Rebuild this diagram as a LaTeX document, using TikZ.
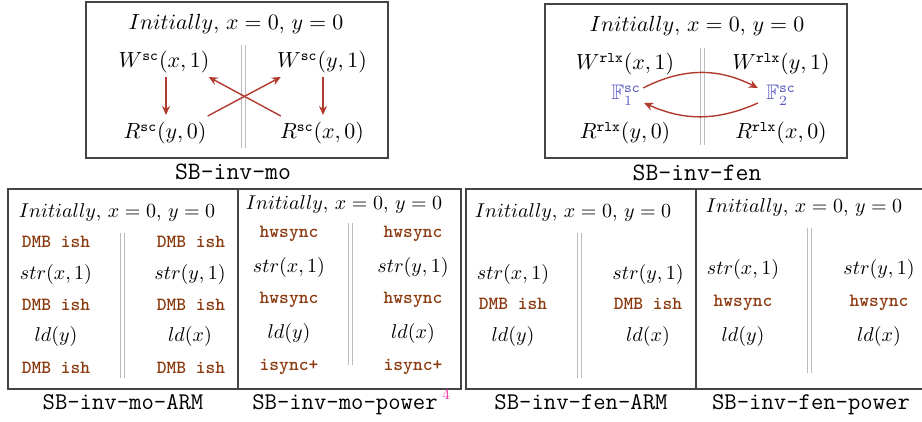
\documentclass[tikz,border=0pt]{standalone}
\usepackage{amsmath}
\usepackage{fontspec}
\usepackage{amssymb}
\usetikzlibrary{arrows.meta}
\definecolor{arrred}{HTML}{B03A2E}
\definecolor{fencecol}{HTML}{8B3A0F}
\definecolor{fblue}{HTML}{5A5AC0}
\definecolor{mark}{HTML}{E83CA8}
\definecolor{framecol}{HTML}{444444}
\definecolor{sepcol}{HTML}{BBBBBB}
\tikzset{
  mtop/.style={inner sep=0pt, anchor=base, font=\fontsize{10.5}{12}\selectfont},
  mbot/.style={inner sep=0pt, anchor=base, font=\fontsize{9.8}{12}\selectfont},
  fen/.style={inner sep=0pt, anchor=base, text=fencecol, font=\fontsize{9.3}{11}\selectfont\ttfamily\bfseries},
  labtop/.style={inner sep=0pt, anchor=base, font=\fontsize{12.5}{14}\selectfont\ttfamily},
  labbot/.style={inner sep=0pt, anchor=base, font=\fontsize{12}{14}\selectfont\ttfamily},
  frame/.style={draw=framecol, line width=0.7pt},
  sepl/.style={draw=sepcol, line width=0.5pt},
  arr/.style={draw=arrred, line width=0.7pt, -{Stealth[length=4.5pt,width=4pt]}},
}
\newcommand{\tsup}[1]{^{\text{\ttfamily #1}}}
\begin{document}
\begin{tikzpicture}[x=0.5pt,y=-0.5pt]
\useasboundingbox (0,0) rectangle (922,422);

% ---------- SB-inv-mo ----------
\draw[frame] (86,2) rectangle (388,158);
\node[mtop] (a0) at (236,30) {$Initially$, $x=0$, $y=0$};
\node[mtop] (aw1) at (164,68) {$W\tsup{sc}(x,1)$};
\node[mtop] (aw2) at (322,68) {$W\tsup{sc}(y,1)$};
\node[mtop] (ar1) at (165,139) {$R\tsup{sc}(y,0)$};
\node[mtop] (ar2) at (322,139) {$R\tsup{sc}(x,0)$};
\coordinate (as1) at (241,45);
\coordinate (as2) at (241,148);
\coordinate (as3) at (245,45);
\coordinate (as4) at (245,148);
\draw[sepl] (as1) -- (as2);
\draw[sepl] (as3) -- (as4);
\draw[arr] ([xshift=1pt,yshift=-4.5pt]aw1.base) -- ([xshift=1pt,yshift=12pt]aw1.base |- ar1.base);
\draw[arr] ([xshift=0.5pt,yshift=-4.5pt]aw2.base) -- ([xshift=0.5pt,yshift=12pt]aw2.base |- ar2.base);
\draw[arr] ([xshift=0.5pt,yshift=11.5pt]ar1.base east) -- ([xshift=2pt,yshift=-4.5pt]aw2.base west);
\draw[arr] ([xshift=0.5pt,yshift=11.5pt]ar2.base west) -- ([xshift=-0.5pt,yshift=-4.5pt]aw1.base east);
\node[labtop] (al) at (233,180) {SB-inv-mo};

% ---------- SB-inv-fen ----------
\draw[frame] (545,4) rectangle (847,158);
\node[mtop] (b0) at (697,32) {$Initially$, $x=0$, $y=0$};
\node[mtop] (bw1) at (625,70) {$W\tsup{rlx}(x,1)$};
\node[mtop] (bw2) at (781,70) {$W\tsup{rlx}(y,1)$};
\node[mtop, text=fblue] (bf1) at (626,100) {$\mathbb{F}\tsup{sc}_1$};
\node[mtop, text=fblue] (bf2) at (781,100) {$\mathbb{F}\tsup{sc}_2$};
\node[mtop] (br1) at (625,139) {$R\tsup{rlx}(y,0)$};
\node[mtop] (br2) at (781,139) {$R\tsup{rlx}(x,0)$};
\coordinate (bs1) at (700,48);
\coordinate (bs2) at (700,145);
\coordinate (bs3) at (704,48);
\coordinate (bs4) at (704,145);
\draw[sepl] (bs1) -- (bs2);
\draw[sepl] (bs3) -- (bs4);
\draw[arr] ([xshift=1pt,yshift=6pt]bf1.base east) to[bend left=27] ([xshift=-4pt,yshift=6pt]bf2.base west);
\draw[arr] ([xshift=-4pt,yshift=-1.5pt]bf2.base west) to[bend left=24] ([xshift=1.5pt,yshift=-1.5pt]bf1.base east);
\node[labtop] (bl) at (697,181) {SB-inv-fen};

% ---------- bottom frames ----------
\coordinate (f1) at (8,189);
\coordinate (f2) at (461,389);
\coordinate (f3) at (238,189);
\coordinate (f4) at (238,389);
\coordinate (f5) at (922,189);
\coordinate (f6) at (466,189);
\coordinate (f7) at (466,389);
\coordinate (f8) at (922,389);
\coordinate (f9) at (696,189);
\coordinate (f10) at (696,389);
\draw[frame] (f1) rectangle (f2);
\draw[frame] (f3) -- (f4);
\draw[frame] (f5) -- (f6) -- (f7) -- (f8);
\draw[frame] (f9) -- (f10);

% ---------- SB-inv-mo-ARM ----------
\node[mbot] (c0) at (117,218) {$Initially$, $x=0$, $y=0$};
\node[fen] (c1) at (56,248) {DMB ish};
\node[mbot] (c2) at (56,280) {$str(x,1)$};
\node[fen] (c3) at (56,311) {DMB ish};
\node[mbot] (c4) at (56,342) {$ld(y)$};
\node[fen] (c5) at (56,374) {DMB ish};
\node[fen] (d1) at (191,248) {DMB ish};
\node[mbot] (d2) at (190,280) {$str(y,1)$};
\node[fen] (d3) at (191,311) {DMB ish};
\node[mbot] (d4) at (190,342) {$ld(x)$};
\node[fen] (d5) at (191,374) {DMB ish};
\coordinate (cs1) at (120,233);
\coordinate (cs2) at (120,378);
\coordinate (cs3) at (124,233);
\coordinate (cs4) at (124,378);
\draw[sepl] (cs1) -- (cs2);
\draw[sepl] (cs3) -- (cs4);
\node[labbot] (cl) at (123,410) {SB-inv-mo-ARM};

% ---------- SB-inv-mo-power ----------
\node[mbot] (e0) at (344,210) {$Initially$, $x=0$, $y=0$};
\node[fen] (e1) at (289,238) {hwsync};
\node[mbot] (e2) at (289,273) {$str(x,1)$};
\node[fen] (e3) at (289,304) {hwsync};
\node[mbot] (e4) at (289,339) {$ld(y)$};
\node[fen] (e5) at (289,371) {isync+};
\node[fen] (g1) at (413,238) {hwsync};
\node[mbot] (g2) at (413,273) {$str(y,1)$};
\node[fen] (g3) at (413,304) {hwsync};
\node[mbot] (g4) at (413,339) {$ld(x)$};
\node[fen] (g5) at (413,371) {isync+};
\coordinate (es1) at (348,223);
\coordinate (es2) at (348,365);
\coordinate (es3) at (352,223);
\coordinate (es4) at (352,365);
\draw[sepl] (es1) -- (es2);
\draw[sepl] (es3) -- (es4);
\node[labbot] (el) at (345,410) {SB-inv-mo-power};
\node[inner sep=0pt, anchor=base, text=mark, font=\fontsize{7.5}{8}\selectfont] (em) at (446,400) {4};

% ---------- SB-inv-fen-ARM ----------
\node[mbot] (h0) at (573,218) {$Initially$, $x=0$, $y=0$};
\node[mbot] (h2) at (513,280) {$str(x,1)$};
\node[fen] (h3) at (513,310) {DMB ish};
\node[mbot] (h4) at (513,342) {$ld(y)$};
\node[mbot] (k2) at (648,280) {$str(y,1)$};
\node[fen] (k3) at (648,310) {DMB ish};
\node[mbot] (k4) at (648,342) {$ld(x)$};
\coordinate (hs1) at (577,233);
\coordinate (hs2) at (577,378);
\coordinate (hs3) at (581,233);
\coordinate (hs4) at (581,378);
\draw[sepl] (hs1) -- (hs2);
\draw[sepl] (hs3) -- (hs4);
\node[labbot] (hl) at (581,410) {SB-inv-fen-ARM};

% ---------- SB-inv-fen-power ----------
\node[mbot] (m0) at (804,213) {$Initially$, $x=0$, $y=0$};
\node[mbot] (m2) at (743,275) {$str(x,1)$};
\node[fen] (m3) at (743,307) {hwsync};
\node[mbot] (m4) at (743,342) {$ld(y)$};
\node[mbot] (n2) at (879,275) {$str(y,1)$};
\node[fen] (n3) at (879,307) {hwsync};
\node[mbot] (n4) at (879,342) {$ld(x)$};
\coordinate (ms1) at (807,228);
\coordinate (ms2) at (807,373);
\coordinate (ms3) at (811,228);
\coordinate (ms4) at (811,373);
\draw[sepl] (ms1) -- (ms2);
\draw[sepl] (ms3) -- (ms4);
\node[labbot] (ml) at (811,410) {SB-inv-fen-power};
\end{tikzpicture}
\end{document}
